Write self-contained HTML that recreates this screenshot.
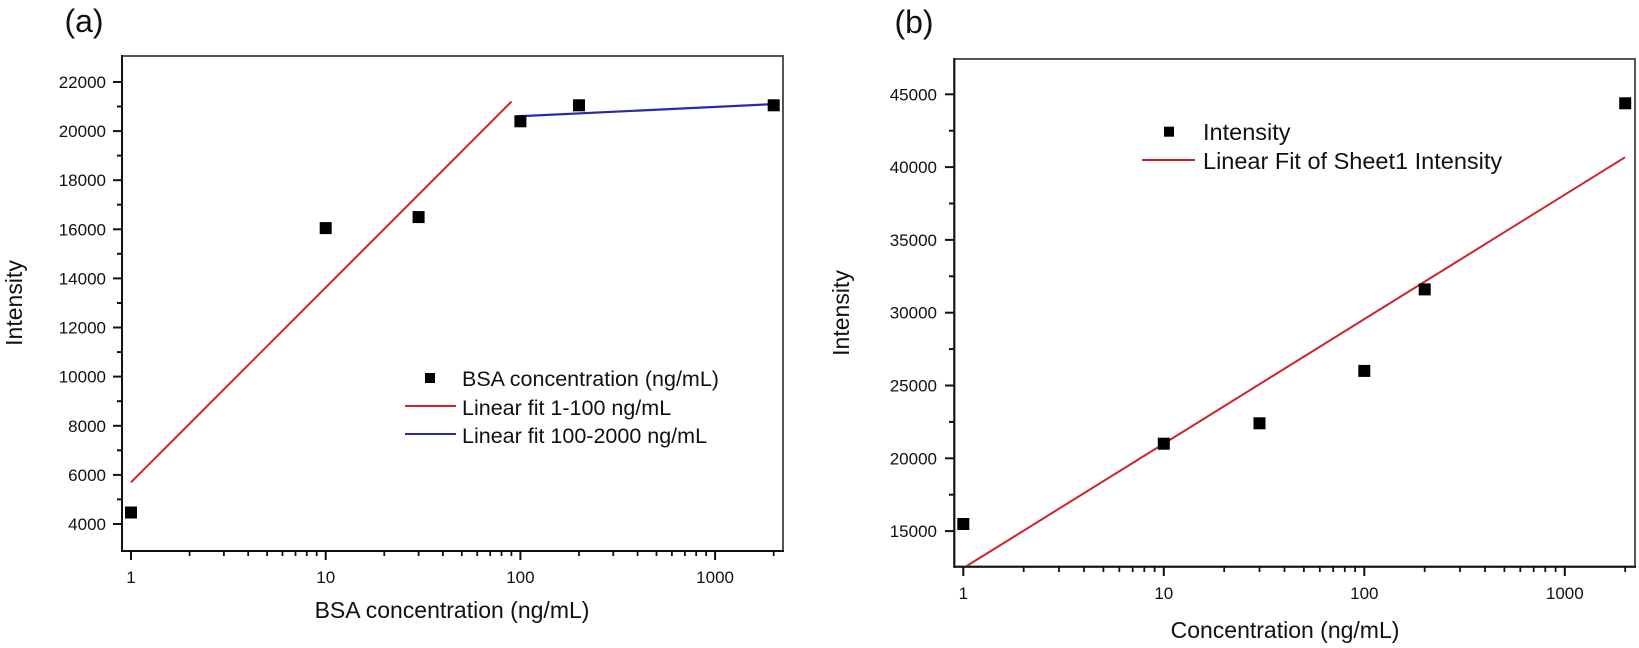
<!DOCTYPE html>
<html><head><meta charset="utf-8"><style>
html,body{margin:0;padding:0;background:#fff;}
svg{display:block;font-family:"Liberation Sans",Arial,sans-serif;}
</style></head><body>
<svg width="1639" height="648" viewBox="0 0 1639 648" xmlns="http://www.w3.org/2000/svg">
<!-- Panel a -->
<text x="84" y="32" font-size="32" text-anchor="middle" fill="#111">(a)</text>
<rect x="122" y="56" width="661" height="495" fill="none" stroke="#555" stroke-width="2"/>
<g stroke="#111" stroke-width="2">
<line x1="122" y1="55" x2="122" y2="552"/><line x1="121" y1="551" x2="784" y2="551"/>
</g>
<g stroke="#111" stroke-width="2">
<line x1="113" y1="524" x2="122" y2="524"/><line x1="113" y1="474.9" x2="122" y2="474.9"/><line x1="113" y1="425.8" x2="122" y2="425.8"/><line x1="113" y1="376.6" x2="122" y2="376.6"/><line x1="113" y1="327.5" x2="122" y2="327.5"/><line x1="113" y1="278.4" x2="122" y2="278.4"/><line x1="113" y1="229.3" x2="122" y2="229.3"/><line x1="113" y1="180.2" x2="122" y2="180.2"/><line x1="113" y1="131.1" x2="122" y2="131.1"/><line x1="113" y1="82" x2="122" y2="82"/>
<line x1="117" y1="499.4" x2="122" y2="499.4"/><line x1="117" y1="450.3" x2="122" y2="450.3"/><line x1="117" y1="401.2" x2="122" y2="401.2"/><line x1="117" y1="352.1" x2="122" y2="352.1"/><line x1="117" y1="303" x2="122" y2="303"/><line x1="117" y1="253.8" x2="122" y2="253.8"/><line x1="117" y1="204.7" x2="122" y2="204.7"/><line x1="117" y1="155.6" x2="122" y2="155.6"/><line x1="117" y1="106.5" x2="122" y2="106.5"/>
<line x1="131" y1="551" x2="131" y2="560"/><line x1="325.7" y1="551" x2="325.7" y2="560"/><line x1="520.4" y1="551" x2="520.4" y2="560"/><line x1="715.1" y1="551" x2="715.1" y2="560"/>
</g>
<g stroke="#111" stroke-width="1.8">
<line x1="189.6" y1="551" x2="189.6" y2="556"/><line x1="223.9" y1="551" x2="223.9" y2="556"/><line x1="248.2" y1="551" x2="248.2" y2="556"/><line x1="267.1" y1="551" x2="267.1" y2="556"/><line x1="282.5" y1="551" x2="282.5" y2="556"/><line x1="295.5" y1="551" x2="295.5" y2="556"/><line x1="306.8" y1="551" x2="306.8" y2="556"/><line x1="316.7" y1="551" x2="316.7" y2="556"/>
<line x1="384.3" y1="551" x2="384.3" y2="556"/><line x1="418.6" y1="551" x2="418.6" y2="556"/><line x1="442.9" y1="551" x2="442.9" y2="556"/><line x1="461.8" y1="551" x2="461.8" y2="556"/><line x1="477.2" y1="551" x2="477.2" y2="556"/><line x1="490.2" y1="551" x2="490.2" y2="556"/><line x1="501.5" y1="551" x2="501.5" y2="556"/><line x1="511.4" y1="551" x2="511.4" y2="556"/>
<line x1="579" y1="551" x2="579" y2="556"/><line x1="613.3" y1="551" x2="613.3" y2="556"/><line x1="637.6" y1="551" x2="637.6" y2="556"/><line x1="656.5" y1="551" x2="656.5" y2="556"/><line x1="671.9" y1="551" x2="671.9" y2="556"/><line x1="684.9" y1="551" x2="684.9" y2="556"/><line x1="696.2" y1="551" x2="696.2" y2="556"/><line x1="706.1" y1="551" x2="706.1" y2="556"/>
<line x1="773.7" y1="551" x2="773.7" y2="556"/>
</g>
<g font-size="17" fill="#111" text-anchor="end">
<text x="106" y="530">4000</text><text x="106" y="481">6000</text><text x="106" y="432">8000</text><text x="106" y="382.6">10000</text><text x="106" y="333.5">12000</text><text x="106" y="284.4">14000</text><text x="106" y="235.3">16000</text><text x="106" y="186.2">18000</text><text x="106" y="137.1">20000</text><text x="106" y="88">22000</text>
</g>
<g font-size="17" fill="#111" text-anchor="middle">
<text x="131" y="583">1</text><text x="325.7" y="583">10</text><text x="520.4" y="583">100</text><text x="715.1" y="583">1000</text>
</g>
<text x="452" y="618" font-size="23" text-anchor="middle" fill="#111">BSA concentration (ng/mL)</text>
<text transform="translate(22,303) rotate(-90)" font-size="23" text-anchor="middle" fill="#111">Intensity</text>
<line x1="131" y1="482.3" x2="511.5" y2="101.6" stroke="#c8262c" stroke-width="2"/>
<line x1="516.1" y1="116.4" x2="773.7" y2="104.1" stroke="#2a2aa8" stroke-width="2.2"/>
<g fill="#000">
<rect x="125" y="506.5" width="12" height="12"/><rect x="319.7" y="222.1" width="12" height="12"/><rect x="412.6" y="211.1" width="12" height="12"/><rect x="514.4" y="115.3" width="12" height="12"/><rect x="573" y="99.3" width="12" height="12"/><rect x="767.7" y="99.3" width="12" height="12"/>
</g>
<rect x="425" y="373" width="10" height="10" fill="#000"/>
<line x1="405" y1="406" x2="456" y2="406" stroke="#c8262c" stroke-width="2"/>
<line x1="405" y1="434" x2="456" y2="434" stroke="#2a2aa8" stroke-width="2"/>
<g font-size="21.5" fill="#111">
<text x="462" y="386">BSA concentration (ng/mL)</text><text x="462" y="415">Linear fit 1-100 ng/mL</text><text x="462" y="443">Linear fit 100-2000 ng/mL</text>
</g>

<!-- Panel b -->
<text x="914" y="33" font-size="32" text-anchor="middle" fill="#111">(b)</text>
<rect x="954.3" y="59" width="680.7" height="507.7" fill="none" stroke="#555" stroke-width="2"/>
<g stroke="#111" stroke-width="2">
<line x1="954.3" y1="58" x2="954.3" y2="567.7"/><line x1="953.3" y1="566.7" x2="1636" y2="566.7"/>
<line x1="945" y1="94.3" x2="954" y2="94.3"/><line x1="945" y1="167.1" x2="954" y2="167.1"/><line x1="945" y1="239.9" x2="954" y2="239.9"/><line x1="945" y1="312.7" x2="954" y2="312.7"/><line x1="945" y1="385.5" x2="954" y2="385.5"/><line x1="945" y1="458.3" x2="954" y2="458.3"/><line x1="945" y1="531.1" x2="954" y2="531.1"/>
<line x1="949" y1="130.7" x2="954" y2="130.7"/><line x1="949" y1="203.5" x2="954" y2="203.5"/><line x1="949" y1="276.3" x2="954" y2="276.3"/><line x1="949" y1="349.1" x2="954" y2="349.1"/><line x1="949" y1="421.9" x2="954" y2="421.9"/><line x1="949" y1="494.7" x2="954" y2="494.7"/>
<line x1="963.3" y1="566.7" x2="963.3" y2="576"/><line x1="1163.8" y1="566.7" x2="1163.8" y2="576"/><line x1="1364.3" y1="566.7" x2="1364.3" y2="576"/><line x1="1564.8" y1="566.7" x2="1564.8" y2="576"/>
</g>
<g stroke="#111" stroke-width="1.8">
<line x1="1023.7" y1="566.7" x2="1023.7" y2="572"/><line x1="1059" y1="566.7" x2="1059" y2="572"/><line x1="1084" y1="566.7" x2="1084" y2="572"/><line x1="1103.4" y1="566.7" x2="1103.4" y2="572"/><line x1="1119.3" y1="566.7" x2="1119.3" y2="572"/><line x1="1132.7" y1="566.7" x2="1132.7" y2="572"/><line x1="1144.3" y1="566.7" x2="1144.3" y2="572"/><line x1="1154.6" y1="566.7" x2="1154.6" y2="572"/>
<line x1="1224.2" y1="566.7" x2="1224.2" y2="572"/><line x1="1259.5" y1="566.7" x2="1259.5" y2="572"/><line x1="1284.5" y1="566.7" x2="1284.5" y2="572"/><line x1="1303.9" y1="566.7" x2="1303.9" y2="572"/><line x1="1319.8" y1="566.7" x2="1319.8" y2="572"/><line x1="1333.2" y1="566.7" x2="1333.2" y2="572"/><line x1="1344.8" y1="566.7" x2="1344.8" y2="572"/><line x1="1355.1" y1="566.7" x2="1355.1" y2="572"/>
<line x1="1424.7" y1="566.7" x2="1424.7" y2="572"/><line x1="1460" y1="566.7" x2="1460" y2="572"/><line x1="1485" y1="566.7" x2="1485" y2="572"/><line x1="1504.4" y1="566.7" x2="1504.4" y2="572"/><line x1="1520.3" y1="566.7" x2="1520.3" y2="572"/><line x1="1533.7" y1="566.7" x2="1533.7" y2="572"/><line x1="1545.3" y1="566.7" x2="1545.3" y2="572"/><line x1="1555.6" y1="566.7" x2="1555.6" y2="572"/>
<line x1="1625.2" y1="566.7" x2="1625.2" y2="572"/>
</g>
<g font-size="17" fill="#111" text-anchor="end">
<text x="937" y="100.3">45000</text><text x="937" y="173.1">40000</text><text x="937" y="245.9">35000</text><text x="937" y="318.7">30000</text><text x="937" y="391.5">25000</text><text x="937" y="464.3">20000</text><text x="937" y="537.1">15000</text>
</g>
<g font-size="17" fill="#111" text-anchor="middle">
<text x="963.3" y="599">1</text><text x="1163.8" y="599">10</text><text x="1364.3" y="599">100</text><text x="1564.8" y="599">1000</text>
</g>
<text x="1285" y="638" font-size="23" text-anchor="middle" fill="#111">Concentration (ng/mL)</text>
<text transform="translate(849,313) rotate(-90)" font-size="23" text-anchor="middle" fill="#111">Intensity</text>
<line x1="966.7" y1="566" x2="1625" y2="157.3" stroke="#c8262c" stroke-width="2"/>
<g fill="#000">
<rect x="957.3" y="518" width="12" height="12"/><rect x="1157.8" y="437.7" width="12" height="12"/><rect x="1253.5" y="417.3" width="12" height="12"/><rect x="1358.3" y="364.9" width="12" height="12"/><rect x="1418.7" y="283.4" width="12" height="12"/><rect x="1619.2" y="97.3" width="12" height="12"/>
</g>
<rect x="1164" y="126.7" width="10" height="10" fill="#000"/>
<line x1="1142" y1="160" x2="1195" y2="160" stroke="#c8262c" stroke-width="2"/>
<g font-size="23.5" fill="#111">
<text x="1203" y="140">Intensity</text><text x="1203" y="169">Linear Fit of Sheet1 Intensity</text>
</g>
</svg>
</body></html>
